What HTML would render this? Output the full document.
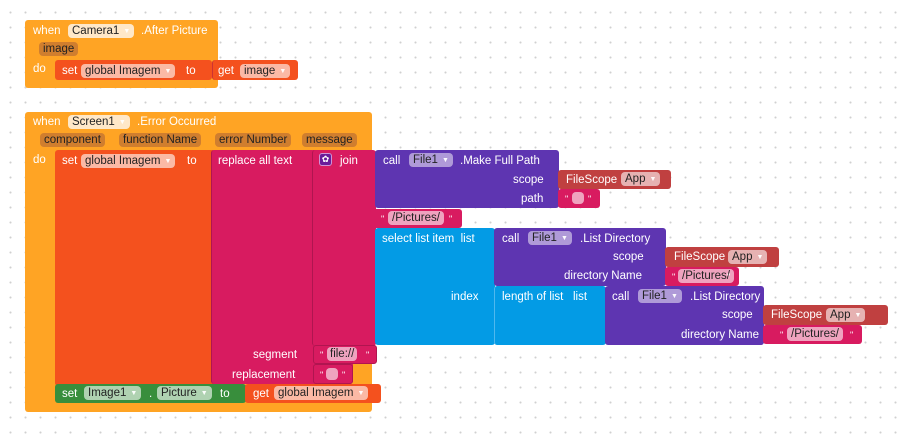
<!DOCTYPE html>
<html><head><meta charset="utf-8"><style>
body{margin:0;width:905px;height:439px;overflow:hidden;background:#fff;
background-image:radial-gradient(circle,#d0d0d0 0.9px,transparent 1.2px);background-size:15px 15px;background-position:3px 5px;
font-family:"Liberation Sans",sans-serif;font-size:11.5px;}
.b{position:absolute;box-sizing:border-box;border-radius:3px;}
.t{position:absolute;color:#fff;white-space:nowrap;line-height:14px;margin-top:1px}
.f{position:absolute;white-space:nowrap;line-height:14px;height:14px;border-radius:4px;padding:0 4px;color:#222;background:rgba(255,255,255,.6);margin-top:1px}
.f i{font-style:normal;font-size:7px;color:rgba(255,255,255,.95);margin-left:4px;vertical-align:1px}
.o{background:#FFA424}.r{background:#F4511E}.m{background:#D81B60}.p{background:#5E35B1}.c{background:#039BE5}.fs{background:#C04040}.g{background:#388E3C}
.pf{position:absolute;line-height:14px;height:14px;border-radius:4px;padding:0 4px;background:rgba(0,0,0,.17);color:#222;white-space:nowrap}
</style></head><body>
<div class="b o" style="left:25px;top:20px;width:193px;height:68px"></div>
<div class="t" style="left:33px;top:23px">when</div>
<div class="f" style="left:68px;top:23px;background:rgba(255,255,255,.75)">Camera1<i>▼</i></div>
<div class="t" style="left:141px;top:23px">.After Picture</div>
<div class="pf" style="left:39px;top:42px;background:rgba(150,80,60,.45)">image</div>
<div class="t" style="left:33px;top:61px">do</div>
<div class="b r" style="left:55px;top:60px;width:157px;height:20px"></div>
<div class="t" style="left:62px;top:63px">set</div>
<div class="f" style="left:81px;top:63px">global Imagem<i>▼</i></div>
<div class="t" style="left:186px;top:63px">to</div>
<div class="b r" style="left:212px;top:60px;width:86px;height:20px;border-left:1px solid #c33"></div>
<div class="t" style="left:218px;top:63px">get</div>
<div class="f" style="left:240px;top:63px">image<i>▼</i></div>

<div class="b o" style="left:25px;top:112px;width:347px;height:300px"></div>
<div class="t" style="left:33px;top:114px">when</div>
<div class="f" style="left:68px;top:114px;background:rgba(255,255,255,.75)">Screen1<i>▼</i></div>
<div class="t" style="left:137px;top:114px">.Error Occurred</div>
<div class="pf" style="left:40px;top:133px;background:rgba(150,80,60,.45)">component</div>
<div class="pf" style="left:119px;top:133px;background:rgba(150,80,60,.45)">function Name</div>
<div class="pf" style="left:215px;top:133px;background:rgba(150,80,60,.45)">error Number</div>
<div class="pf" style="left:302px;top:133px;background:rgba(150,80,60,.45)">message</div>
<div class="t" style="left:33px;top:152px">do</div>
<div class="b r" style="left:55px;top:150px;width:160px;height:236px"></div>
<div class="t" style="left:62px;top:153px">set</div>
<div class="f" style="left:81px;top:153px">global Imagem<i>▼</i></div>
<div class="t" style="left:187px;top:153px">to</div>
<div class="b m" style="left:211px;top:150px;width:142px;height:234px;border-left:1px solid #b01550"></div>
<div class="t" style="left:218px;top:153px">replace all text</div>
<div class="t" style="left:253px;top:347px">segment</div>
<div class="t" style="left:232px;top:367px">replacement</div>
<div class="b m" style="left:312px;top:150px;width:64px;height:196px;border-left:1px solid #b01550"></div>
<div class="b" style="left:319px;top:153px;width:13px;height:13px;background:#6a1b9a;border:1px solid #ce93d8;border-radius:3px;color:#fff;font-size:9px;text-align:center;line-height:11px">✿</div>
<div class="t" style="left:340px;top:153px">join</div>
<div class="b m" style="left:313px;top:345px;width:64px;height:19px;border:1px solid #b01550"></div>
<div class="t" style="left:320px;top:347px;font-size:9px">"</div>
<div class="f" style="left:327px;top:346px;padding:0 3px">file://</div>
<div class="t" style="left:366px;top:347px;font-size:9px">"</div>
<div class="b m" style="left:313px;top:364px;width:40px;height:20px;border:1px solid #b01550"></div>
<div class="t" style="left:320px;top:367px;font-size:9px">"</div>
<div class="f" style="left:326px;top:367px;width:4px;height:12px"></div>
<div class="t" style="left:342px;top:367px;font-size:9px">"</div>
<div class="b p" style="left:375px;top:150px;width:184px;height:58px"></div>
<div class="t" style="left:383px;top:153px">call</div>
<div class="f" style="left:409px;top:152px;background:rgba(255,255,255,.5)">File1<i>▼</i></div>
<div class="t" style="left:460px;top:153px">.Make Full Path</div>
<div class="t" style="left:513px;top:172px">scope</div>
<div class="t" style="left:521px;top:191px">path</div>
<div class="b fs" style="left:558px;top:170px;width:113px;height:19px"></div>
<div class="t" style="left:566px;top:172px">FileScope</div>
<div class="f" style="left:621px;top:171px">App<i>▼</i></div>
<div class="b m" style="left:558px;top:189px;width:42px;height:19px"></div>
<div class="t" style="left:565px;top:191px;font-size:9px">"</div>
<div class="f" style="left:572px;top:191px;width:4px;height:12px"></div>
<div class="t" style="left:588px;top:191px;font-size:9px">"</div>
<div class="b m" style="left:370px;top:209px;width:92px;height:19px"></div>
<div class="t" style="left:381px;top:211px;font-size:9px">"</div>
<div class="f" style="left:388px;top:210px">/Pictures/</div>
<div class="t" style="left:449px;top:211px;font-size:9px">"</div>
<div class="b c" style="left:375px;top:228px;width:120px;height:117px"></div>
<div class="t" style="left:382px;top:231px">select list item&nbsp; list</div>
<div class="t" style="left:451px;top:289px">index</div>
<div class="b p" style="left:494px;top:228px;width:172px;height:58px"></div>
<div class="t" style="left:502px;top:231px">call</div>
<div class="f" style="left:528px;top:230px;background:rgba(255,255,255,.5)">File1<i>▼</i></div>
<div class="t" style="left:580px;top:231px">.List Directory</div>
<div class="t" style="left:613px;top:249px">scope</div>
<div class="t" style="left:564px;top:268px">directory Name</div>
<div class="b fs" style="left:665px;top:247px;width:114px;height:20px"></div>
<div class="t" style="left:674px;top:249px">FileScope</div>
<div class="f" style="left:728px;top:249px">App<i>▼</i></div>
<div class="b m" style="left:665px;top:267px;width:74px;height:19px"></div>
<div class="t" style="left:672px;top:269px;font-size:9px">"</div>
<div class="f" style="left:678px;top:268px">/Pictures/</div>
<div class="t" style="left:727px;top:269px;font-size:9px">"</div>
<div class="b c" style="left:494px;top:286px;width:112px;height:59px;border-left:1px solid #4fb8ee"></div>
<div class="t" style="left:502px;top:289px">length of list&nbsp;&nbsp; list</div>
<div class="b p" style="left:605px;top:286px;width:159px;height:59px"></div>
<div class="t" style="left:612px;top:289px">call</div>
<div class="f" style="left:638px;top:288px;background:rgba(255,255,255,.5)">File1<i>▼</i></div>
<div class="t" style="left:690px;top:289px">.List Directory</div>
<div class="t" style="left:722px;top:307px">scope</div>
<div class="t" style="left:681px;top:327px">directory Name</div>
<div class="b fs" style="left:763px;top:305px;width:125px;height:20px"></div>
<div class="t" style="left:771px;top:307px">FileScope</div>
<div class="f" style="left:826px;top:307px">App<i>▼</i></div>
<div class="b m" style="left:763px;top:325px;width:99px;height:19px"></div>
<div class="t" style="left:780px;top:327px;font-size:9px">"</div>
<div class="f" style="left:787px;top:326px">/Pictures/</div>
<div class="t" style="left:850px;top:327px;font-size:9px">"</div>
<div class="b g" style="left:55px;top:384px;width:191px;height:19px"></div>
<div class="t" style="left:62px;top:386px">set</div>
<div class="f" style="left:84px;top:385px">Image1<i>▼</i></div>
<div class="t" style="left:149px;top:386px">.</div>
<div class="f" style="left:157px;top:385px">Picture<i>▼</i></div>
<div class="t" style="left:220px;top:386px">to</div>
<div class="b r" style="left:245px;top:384px;width:136px;height:19px"></div>
<div class="t" style="left:253px;top:386px">get</div>
<div class="f" style="left:274px;top:385px">global Imagem<i>▼</i></div>
</body></html>
